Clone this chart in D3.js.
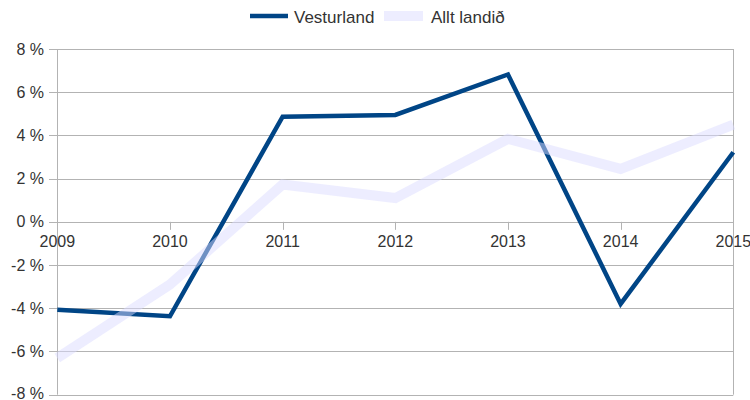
<!DOCTYPE html>
<html><head><meta charset="utf-8">
<script src="https://cdn.jsdelivr.net/npm/d3@7"></script>
<style>body{margin:0;background:#fff}svg{display:block}</style>
</head><body>
<svg id="c" width="750" height="400"></svg>
<script>
const years = [2009, 2010, 2011, 2012, 2013, 2014, 2015];
const vesturland = [-4.07, -4.37, 4.87, 4.95, 6.82, -3.8, 3.22];
const alltLandid = [-6.3, -2.9, 1.73, 1.1, 3.84, 2.45, 4.5];
const yTicks = [-8, -6, -4, -2, 0, 2, 4, 6, 8];
const seriesNames = ["Vesturland", "Allt landið"];

const svg = d3.select("#c");
const font = "'Liberation Sans', Arial, sans-serif";
const x = d3.scalePoint().domain(years).range([57.3, 733.3]);
const y = d3.scaleLinear().domain([-8, 8]).range([394.7, 49]);
const grid = "#b3b3b3";

// gridlines
svg.append("g").selectAll("line").data(yTicks).join("line")
  .attr("x1", 49).attr("x2", 733.3)
  .attr("y1", d => Math.round(y(d)) + 0.5).attr("y2", d => Math.round(y(d)) + 0.5)
  .attr("stroke", grid).attr("stroke-width", 1);
// vertical borders
[57.3, 733.3].forEach(xx => {
  svg.append("line").attr("x1", Math.round(xx) + 0.5).attr("x2", Math.round(xx) + 0.5)
    .attr("y1", y(8)).attr("y2", y(-8)).attr("stroke", grid);
});
// y labels
svg.append("g").selectAll("text").data(yTicks).join("text")
  .attr("x", 44).attr("y", d => Math.min(y(d) + 5.5, 399))
  .attr("text-anchor", "end").attr("font-family", font).attr("font-size", 16)
  .attr("fill", "#333").text(d => d + " %");
// x ticks on zero line
svg.append("g").selectAll("line").data(years).join("line")
  .attr("x1", d => Math.round(x(d)) + 0.5).attr("x2", d => Math.round(x(d)) + 0.5)
  .attr("y1", y(0)).attr("y2", y(0) + 8).attr("stroke", grid);
svg.append("g").selectAll("text").data(years).join("text")
  .attr("x", d => x(d)).attr("y", y(0) + 25)
  .attr("text-anchor", "middle").attr("font-family", font).attr("font-size", 16)
  .attr("fill", "#333").text(d => d);

const line = d3.line().x((d, i) => x(years[i])).y(d => y(d));
svg.append("path").datum(vesturland).attr("d", line)
  .attr("fill", "none").attr("stroke", "#004586").attr("stroke-width", 4.5)
  .attr("stroke-linejoin", "miter");
svg.append("path").datum(alltLandid).attr("d", line)
  .attr("fill", "none").attr("stroke", "#dcdcff").attr("stroke-opacity", 0.5)
  .attr("stroke-width", 10).attr("stroke-linejoin", "miter");

// legend
const lg = svg.append("g");
lg.append("line").attr("x1", 250).attr("x2", 288).attr("y1", 16).attr("y2", 16)
  .attr("stroke", "#004586").attr("stroke-width", 4.5);
lg.append("text").attr("x", 294).attr("y", 23).attr("font-family", font).attr("font-size", 17)
  .attr("fill", "#333").text(seriesNames[0]);
lg.append("line").attr("x1", 384).attr("x2", 423).attr("y1", 16).attr("y2", 16)
  .attr("stroke", "#dcdcff").attr("stroke-opacity", 0.5).attr("stroke-width", 10);
lg.append("text").attr("x", 431).attr("y", 23).attr("font-family", font).attr("font-size", 17)
  .attr("fill", "#333").text(seriesNames[1]);
</script>
</body></html>
